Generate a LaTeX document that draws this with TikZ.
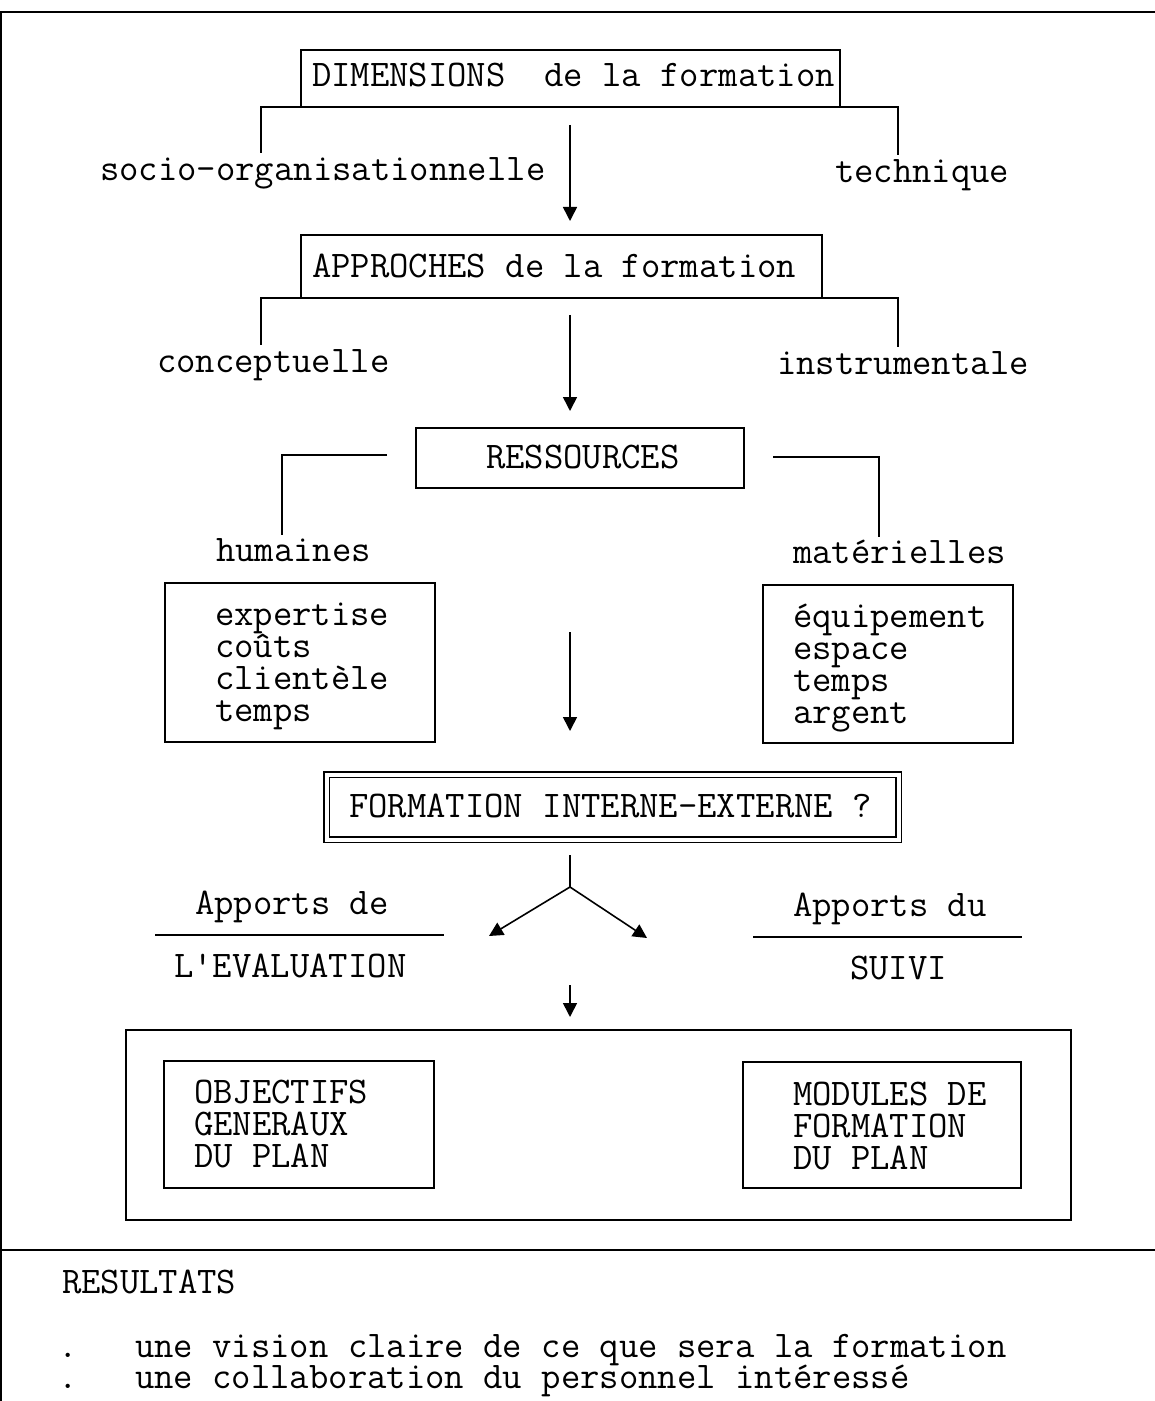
\documentclass[tikz,border=0pt]{standalone}
\usetikzlibrary{arrows.meta}
\begin{document}
\begin{tikzpicture}[x=0.5pt,y=-0.5pt,
  every path/.style={line width=0.8pt},
  txt/.style={font=\fontsize{18.8}{16}\selectfont\ttfamily, inner sep=0pt, outer sep=0pt, anchor=base west},
  box/.style={draw, line width=0.8pt, inner sep=0pt, outer sep=0pt},
  tip/.style={-{Triangle[length=7pt,width=7pt]}},
  frame/.style={line width=1pt}]
\useasboundingbox (0,0) rectangle (1155,1401);

% page frame and divider above the results
\coordinate (ftl) at (0,12);
\coordinate (ftr) at (1155,12);
\coordinate (flt) at (1,12);
\coordinate (flb) at (1,1401);
\coordinate (dvl) at (0,1250);
\coordinate (dvr) at (1155,1250);
\draw[frame] (ftl) -- (ftr);
\draw[frame] (flt) -- (flb);
\draw[frame] (dvl) -- (dvr);

% --- dimensions
\node[box, minimum width=269.5pt, minimum height=28.5pt] (dim) at (570.5,78.5) {};
\node[txt] (dimt) at (312,87) {DIMENSIONS\ \ de la formation};
\coordinate (b1l) at (261,153);
\coordinate (b1r) at (898,155);
\coordinate (b1m) at (898,107);
\draw (b1l) |- (b1m) -- (b1r);
\node[txt] (socio) at (100,181) {socio-organisationnelle};
\node[txt] (tech) at (835,183) {technique};
\coordinate (a1s) at (570,125);
\coordinate (a1e) at (570,221);
\draw[tip] (a1s) -- (a1e);

% --- approches
\node[box, minimum width=260.5pt, minimum height=31.5pt] (app) at (561.5,266.5) {};
\node[txt] (appt) at (312,278) {APPROCHES de la formation};
\coordinate (b2l) at (261,345);
\coordinate (b2r) at (898,347);
\coordinate (b2m) at (898,298);
\draw (b2l) |- (b2m) -- (b2r);
\node[txt] (conc) at (157,372) {conceptuelle};
\node[txt] (instr) at (777,374) {instrumentale};
\coordinate (a2s) at (570,315);
\coordinate (a2e) at (570,411);
\draw[tip] (a2s) -- (a2e);

% --- ressources
\node[box, minimum width=164pt, minimum height=30pt] (res) at (580,458) {};
\node[txt] (rest) at (486,468) {RESSOURCES};
\coordinate (b3a) at (387,455);
\coordinate (b3b) at (282,535);
\draw (b3a) -| (b3b);
\coordinate (b3c) at (773,457);
\coordinate (b3d) at (879,537);
\draw (b3c) -| (b3d);
\node[txt] (hum) at (216,561) {humaines};
\node[txt] (mat) at (793,563) {matérielles};

\node[box, minimum width=135pt, minimum height=79.5pt] (humbox) at (300,662.5) {};
\node[txt] (h1) at (215,625) {expertise};
\node[txt] (h2) at (215,657) {coûts};
\node[txt] (h3) at (215,689) {clientèle};
\node[txt] (h4) at (215,721) {temps};

\node[box, minimum width=125pt, minimum height=79pt] (matbox) at (888,664) {};
\node[txt] (m1) at (793,627) {équipement};
\node[txt] (m2) at (793,659) {espace};
\node[txt] (m3) at (793,691) {temps};
\node[txt] (m4) at (793,723) {argent};

\coordinate (a3s) at (570,632);
\coordinate (a3e) at (570,731);
\draw[tip] (a3s) -- (a3e);

% --- formation interne-externe
\node[draw, double, double distance=2pt, line width=0.7pt, inner sep=0pt,
      minimum width=286pt, minimum height=32.5pt] (form) at (612.5,807) {};
\node[txt] (formt) at (349,817) {FORMATION INTERNE-EXTERNE ?};

% fork towards evaluation and follow-up
\coordinate (fk0) at (570,855);
\coordinate (fk1) at (570,887);
\coordinate (fkl) at (489,936);
\coordinate (fkr) at (647,938);
\draw (fk0) -- (fk1);
\draw[tip] (fk1) -- (fkl);
\draw[tip] (fk1) -- (fkr);

\node[txt] (appde) at (195,914) {Apports de};
\coordinate (ul1) at (155,935);
\coordinate (ul2) at (444,935);
\draw (ul1) -- (ul2);
\node[txt] (eval) at (174,977) {L'EVALUATION};

\node[txt] (appdu) at (793,916) {Apports du};
\coordinate (ur1) at (753,937);
\coordinate (ur2) at (1022,937);
\draw (ur1) -- (ur2);
\node[txt] (suivi) at (850,979) {SUIVI};

\coordinate (a4s) at (570,985);
\coordinate (a4e) at (570,1017);
\draw[tip] (a4s) -- (a4e);

% --- plan
\node[box, minimum width=472.5pt, minimum height=95pt] (plan) at (598.5,1125) {};
\node[box, minimum width=135pt, minimum height=63.5pt] (obj) at (299,1124.5) {};
\node[txt] (o1) at (194,1103) {OBJECTIFS};
\node[txt] (o2) at (194,1135) {GENERAUX};
\node[txt] (o3) at (194,1167) {DU PLAN};

\node[box, minimum width=139pt, minimum height=63pt] (mod) at (882,1125) {};
\node[txt] (d1) at (793,1105) {MODULES DE};
\node[txt] (d2) at (793,1137) {FORMATION};
\node[txt] (d3) at (793,1169) {DU PLAN};

% --- results
\node[txt] (resu) at (62,1293) {RESULTATS};
\node[txt] (dot1) at (58,1357) {.};
\node[txt] (r1) at (135,1357) {une vision claire de ce que sera la formation};
\node[txt] (dot2) at (58,1388) {.};
\node[txt] (r2) at (135,1388) {une collaboration du personnel intéressé};
\end{tikzpicture}
\end{document}
